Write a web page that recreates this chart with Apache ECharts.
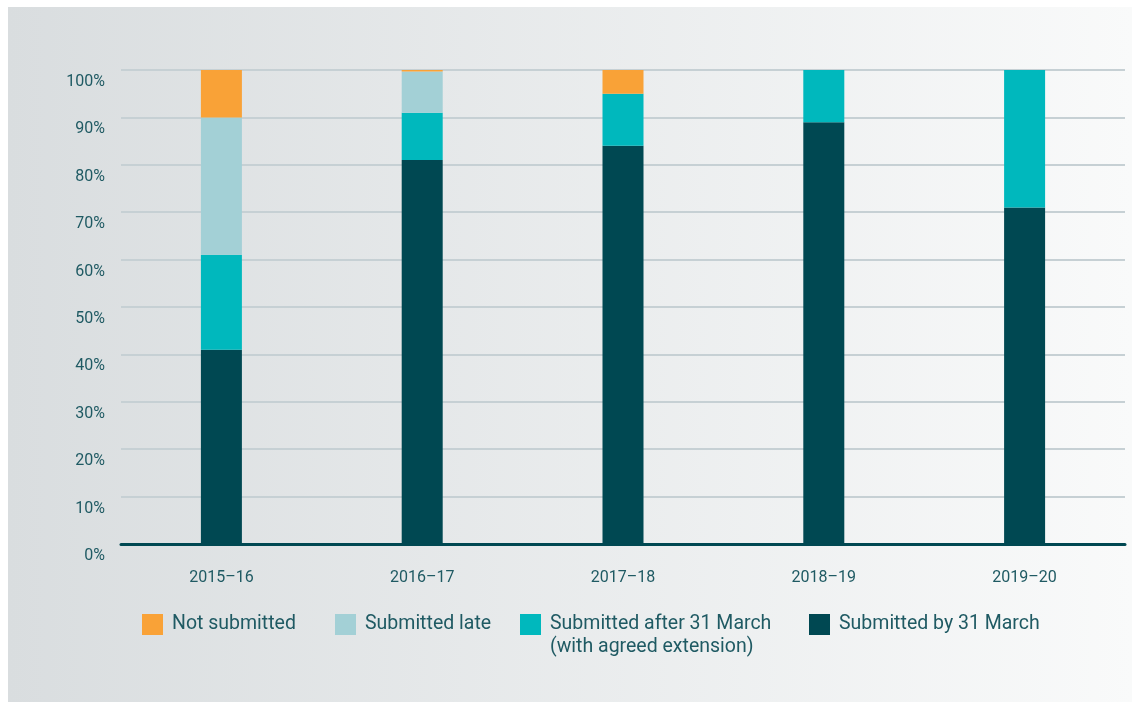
<!DOCTYPE html>
<html>
<head>
<meta charset="utf-8">
<style>
  html, body { margin: 0; padding: 0; background: #ffffff; }
  #chart { width: 1132px; height: 702px; }
</style>
<script src="https://cdn.jsdelivr.net/npm/echarts@6/dist/echarts.min.js"></script>
</head>
<body>
<div id="chart"></div>
<script>
// Annual return submission status, share of bodies (%)
const years = ['2015–16', '2016–17', '2017–18', '2018–19', '2019–20'];
const submittedBy31March = [41, 81, 84, 89, 71];
const submittedAfterExtension = [20, 10, 11, 11, 29];
const submittedLate = [29, 8.7, 0, 0, 0];
const notSubmitted = [10, 0.3, 5, 0, 0];
const yTicks = ['0%', '10%', '20%', '30%', '40%', '50%', '60%', '70%', '80%', '90%', '100%'];

const names = {
  not: 'Not submitted',
  late: 'Submitted late',
  after: 'Submitted after 31 March\n(with agreed extension)',
  by: 'Submitted by 31 March'
};
const colors = {
  not: '#f9a237',
  late: '#a3d0d6',
  after: '#00b8bd',
  by: '#004852'
};
const textColor = '#1f5a63';
const fontFamily = 'Roboto, "Noto Sans", sans-serif';
const legendFontSize = 19.5;
const legendLine = 23;

const chart = echarts.init(document.getElementById('chart'), null, { renderer: 'canvas' });

function bar(key, data) {
  return {
    name: names[key],
    type: 'bar',
    stack: 'total',
    data: data,
    barWidth: 41,
    itemStyle: { color: colors[key] },
    emphasis: { disabled: true }
  };
}

// One legend per entry so each swatch sits at its own position.
// A two-line label gets an empty rich line on top, so that the swatch,
// which is centred on the label block, lines up with the first line.
function legendAt(key, left) {
  const twoLine = names[key].indexOf('\n') >= 0;
  const legend = {
    data: [names[key]],
    left: left,
    top: twoLine ? 613 - legendLine : 613,
    itemWidth: 21,
    itemHeight: 21,
    icon: 'rect',
    selectedMode: false,
    textStyle: {
      color: textColor,
      fontSize: legendFontSize,
      fontFamily: fontFamily,
      lineHeight: legendLine
    },
    itemGap: 0,
    align: 'left',
    padding: 0
  };
  if (twoLine) {
    legend.formatter = function (name) {
      return '{gap| }\n' + name.split('\n').map(function (s) { return '{t|' + s + '}'; }).join('\n');
    };
    legend.textStyle.rich = {
      gap: { fontSize: 1, lineHeight: legendLine },
      t: { color: textColor, fontSize: legendFontSize, fontFamily: fontFamily, lineHeight: legendLine, padding: [0, 0, 0, 4] }
    };
  } else {
    legend.textStyle.padding = [0, 0, 0, 4];
  }
  return legend;
}

chart.setOption({
  animation: false,
  graphic: [{
    type: 'rect',
    z: -10,
    silent: true,
    shape: { x: 8, y: 7, width: 1124, height: 695 },
    style: {
      fill: new echarts.graphic.LinearGradient(0, 0, 1, 0, [
        { offset: 0, color: '#d9dddf' },
        { offset: 1, color: '#f9fafa' }
      ])
    }
  }],
  grid: { left: 121, right: 7, top: 70, bottom: 158 },
  legend: [
    legendAt('not', 142),
    legendAt('late', 335),
    legendAt('after', 520),
    legendAt('by', 809)
  ],
  xAxis: {
    type: 'category',
    data: years,
    axisLine: { show: true, lineStyle: { color: '#004852', width: 3 } },
    axisTick: { show: false },
    axisLabel: {
      color: textColor,
      fontSize: 16,
      fontFamily: fontFamily,
      margin: 26
    }
  },
  yAxis: {
    type: 'value',
    min: 0,
    max: 100,
    interval: 10,
    axisLine: { show: false },
    axisTick: { show: false },
    splitLine: { lineStyle: { color: '#c6d0d4', width: 2 } },
    axisLabel: {
      color: textColor,
      fontSize: 16,
      fontFamily: fontFamily,
      margin: 16,
      verticalAlign: 'top',
      lineHeight: 24,
      formatter: function (v) { return yTicks[Math.round(v / 10)]; }
    }
  },
  series: [
    bar('by', submittedBy31March),
    bar('after', submittedAfterExtension),
    bar('late', submittedLate),
    bar('not', notSubmitted)
  ]
});
</script>
</body>
</html>
